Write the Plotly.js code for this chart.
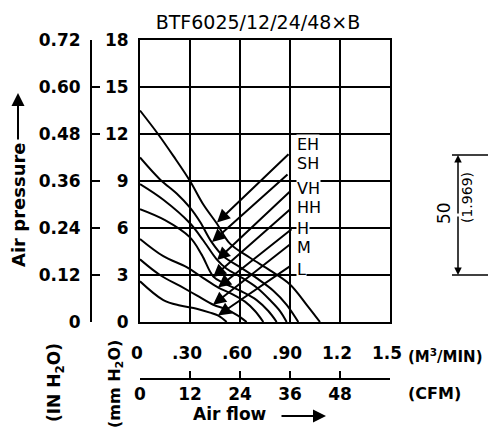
<!DOCTYPE html>
<html><head><meta charset="utf-8">
<script src="https://cdn.plot.ly/plotly-3.0.1.min.js"></script>
<style>html,body{margin:0;padding:0;background:#fff;}#chart{width:488px;height:428px;}</style>
</head><body><div id="chart"></div>
<script>
// ---- data (flow in m3/min, static pressure in mm H2O) ----
const curveNames = ['EH','SH','VH','HH','H','M','L'];
const flowEH = [0, 0.108, 0.2, 0.3, 0.38, 0.46, 0.54, 0.66, 0.78, 0.9, 1.0, 1.08];
const presEH = [13.5, 12.0, 10.6, 9.0, 7.5, 6.3, 5.0, 4.1, 3.3, 2.4, 1.1, 0];
const flowSH = [0, 0.12, 0.22, 0.3, 0.36, 0.43, 0.5, 0.6, 0.7, 0.8, 0.88, 0.95];
const presSH = [10.5, 9.1, 8.2, 7.3, 6.4, 5.1, 4.2, 3.5, 2.8, 2.0, 1.1, 0];
const flowVH = [0, 0.14, 0.3, 0.38, 0.46, 0.52, 0.6, 0.7, 0.78, 0.84, 0.88];
const presVH = [8.8, 7.8, 6.3, 5.2, 4.0, 3.4, 2.9, 2.2, 1.4, 0.7, 0];
const flowHH = [0, 0.15, 0.3, 0.37, 0.44, 0.5, 0.6, 0.7, 0.77, 0.82];
const presHH = [7.2, 6.5, 5.4, 4.3, 2.9, 2.5, 2.0, 1.4, 0.7, 0];
const flowH  = [0, 0.14, 0.28, 0.38, 0.47, 0.55, 0.63, 0.69, 0.74];
const presH  = [5.3, 4.2, 3.5, 2.8, 2.2, 1.8, 1.3, 0.7, 0];
const flowM  = [0, 0.12, 0.24, 0.34, 0.44, 0.52, 0.58, 0.64];
const presM  = [4.0, 3.0, 2.3, 1.7, 1.1, 0.8, 0.45, 0];
const flowL  = [0, 0.14, 0.24, 0.34, 0.42, 0.47, 0.52];
const presL  = [2.6, 1.4, 1.05, 0.85, 0.6, 0.4, 0];

const flowTicks = [0, 0.3, 0.6, 0.9, 1.2, 1.5];
const flowTickText = ['0', '.30', '.60', '.90', '1.2', '1.5'];
const cfmTicks = [0, 12, 24, 36, 48];
const mmTicks = [0, 3, 6, 9, 12, 15, 18];
const inchTicks = [0, 0.12, 0.24, 0.36, 0.48, 0.60, 0.72];
const inchTickText = ['0', '0.12', '0.24', '0.36', '0.48', '0.60', '0.72'];

// ---- styling / layout ----
const FONT = 'DejaVu Sans, sans-serif';
const W = 488, H = 428, T = 40;
const PX = x => x / W;
const PY = y => (H - y) / (H - T);

const flows = [flowEH, flowSH, flowVH, flowHH, flowH, flowM, flowL];
const press = [presEH, presSH, presVH, presHH, presH, presM, presL];
const traces = curveNames.map((n, i) => ({
  type: 'scatter', mode: 'lines', name: n, x: flows[i], y: press[i],
  line: {color: '#000', width: 2, shape: 'spline', smoothing: 1},
  hoverinfo: 'skip', xaxis: 'x', yaxis: 'y'
}));
// invisible carriers so the secondary (inch / CFM) axes are drawn
traces.push({type: 'scatter', mode: 'markers', x: [0, 0], y: [inchTicks[0], inchTicks[inchTicks.length - 1]],
  xaxis: 'x', yaxis: 'y2', marker: {opacity: 0}, hoverinfo: 'skip'});
traces.push({type: 'scatter', mode: 'markers', x: [cfmTicks[0], cfmTicks[cfmTicks.length - 1]], y: [0, 0],
  xaxis: 'x2', yaxis: 'y', marker: {opacity: 0}, hoverinfo: 'skip'});

// label / arrow placement (data units of the chart axes)
const labelY = [11.3, 10.1, 8.55, 7.28, 5.95, 4.75, 3.35];
const tailXY = [[0.90,10.8],[0.894,9.5],[0.912,8.45],[0.912,7.3],[0.918,6.0],[0.912,5.05],[0.912,3.65]];
const tipXY  = [[0.462,6.35],[0.432,5.1],[0.462,3.95],[0.438,2.85],[0.468,2.2],[0.438,1.1],[0.468,0.42]];

const ann = [];
curveNames.forEach((n, i) => {
  ann.push({xref:'x', yref:'y', x: 0.936, y: labelY[i], text: n, showarrow: false,
    xanchor: 'left', yanchor: 'middle', bgcolor: '#fff', borderpad: 0,
    font: {family: FONT, size: 16, color: '#000'}});
  ann.push({xref:'x', yref:'y', axref:'x', ayref:'y', x: tipXY[i][0], y: tipXY[i][1],
    ax: tailXY[i][0], ay: tailXY[i][1], text: '', showarrow: true,
    arrowhead: 2, arrowsize: 1.3, arrowwidth: 2, arrowcolor: '#000', standoff: 0});
});
const boldFont = (s) => ({family: FONT, size: s, color: '#000', weight: 'bold'});
const txt = (x, y, text, font, angle) => ({xref:'paper', yref:'paper', x: PX(x), y: PY(y), text: text,
  textangle: angle || 0, showarrow: false, xanchor: 'center', yanchor: 'middle', font: font});
ann.push(txt(18, 205, 'Air pressure', boldFont(18), -90));
ann.push({xref:'paper', yref:'paper', x: PX(18), y: PY(93), ax: 0, ay: 48, text: '', showarrow: true,
  arrowhead: 2, arrowsize: 1.3, arrowwidth: 2, arrowcolor: '#000'});
ann.push(txt(55, 383, '(IN H<sub>2</sub>O)', boldFont(17), -90));
ann.push(txt(115, 384, '(mm H<sub>2</sub>O)', boldFont(16), -90));
ann.push({xref:'paper', yref:'paper', x: PX(406), y: PY(356), xanchor: 'left', yanchor: 'middle',
  text: '(M<sup>3</sup>/MIN)', showarrow: false, font: boldFont(15)});
ann.push({xref:'paper', yref:'paper', x: PX(406), y: PY(393), xanchor: 'left', yanchor: 'middle',
  text: '(CFM)', showarrow: false, font: boldFont(16)});
ann.push(txt(230, 414, 'Air flow', boldFont(17), 0));
ann.push({xref:'paper', yref:'paper', x: PX(326), y: PY(416), ax: -46, ay: 0, text: '', showarrow: true,
  arrowhead: 2, arrowsize: 1.3, arrowwidth: 2, arrowcolor: '#000'});
ann.push(txt(444, 213, '50', {family: FONT, size: 17, color: '#000'}, -90));
ann.push(txt(467, 198, '(1.969)', {family: FONT, size: 14, color: '#000'}, -90));
// dimension arrows
ann.push({xref:'paper', yref:'paper', x: PX(458), y: PY(155), ax: 0, ay: 60, text: '', showarrow: true,
  arrowhead: 2, arrowsize: 1, arrowwidth: 1.5, arrowcolor: '#000'});
ann.push({xref:'paper', yref:'paper', x: PX(458), y: PY(275), ax: 0, ay: -60, text: '', showarrow: true,
  arrowhead: 2, arrowsize: 1, arrowwidth: 1.5, arrowcolor: '#000'});

const shapes = [
  {type:'line', xref:'paper', yref:'paper', x0: PX(452), x1: PX(488), y0: PY(155), y1: PY(155), line:{color:'#000', width:1.5}},
  {type:'line', xref:'paper', yref:'paper', x0: PX(452), x1: PX(488), y0: PY(275), y1: PY(275), line:{color:'#000', width:1.5}}
];

const layout = {
  width: W, height: H,
  margin: {l: 0, r: 0, t: T, b: 0, pad: 0},
  paper_bgcolor: '#fff', plot_bgcolor: '#fff', showlegend: false,
  title: {text: 'BTF6025/12/24/48×B', x: 258 / W, xanchor: 'center', xref: 'container',
    y: 1 - 22 / H, yanchor: 'middle', yref: 'container',
    font: {family: FONT, size: 19, color: '#000'}},
  xaxis: {domain: [PX(140), PX(390)], range: [0, 1.5], tickvals: flowTicks, ticktext: flowTickText,
    showgrid: true, gridcolor: '#000', gridwidth: 2, showline: true, mirror: true,
    linecolor: '#000', linewidth: 2, ticks: '', zeroline: false, ticklabelstandoff: 15,
    ticklabelshift: -3, tickfont: boldFont(17), fixedrange: true},
  xaxis2: {overlaying: 'x', anchor: 'free', position: PY(379), side: 'bottom', range: [0, 60],
    tickvals: cfmTicks, ticks: 'inside', ticklen: 7, tickwidth: 2, tickcolor: '#000',
    showline: true, linecolor: '#000', linewidth: 2, showgrid: false, zeroline: false,
    tickfont: boldFont(17), fixedrange: true},
  yaxis: {domain: [PY(322), 1], range: [0, 18], tickvals: mmTicks,
    showgrid: true, gridcolor: '#000', gridwidth: 2, showline: true, mirror: true,
    linecolor: '#000', linewidth: 2, ticks: '', zeroline: false, ticklabelstandoff: 6,
    tickfont: boldFont(17), fixedrange: true},
  yaxis2: {overlaying: 'y', anchor: 'free', position: PX(91), side: 'left', range: [0, 0.72],
    tickvals: inchTicks, ticktext: inchTickText, ticks: 'inside', ticklen: 8, tickwidth: 2,
    tickcolor: '#000', showline: true, linecolor: '#000', linewidth: 2, showgrid: false,
    zeroline: false, tickfont: boldFont(17), ticklabelstandoff: 6, fixedrange: true},
  annotations: ann, shapes: shapes
};
Plotly.newPlot('chart', traces, layout, {staticPlot: true, displayModeBar: false});
</script></body></html>
